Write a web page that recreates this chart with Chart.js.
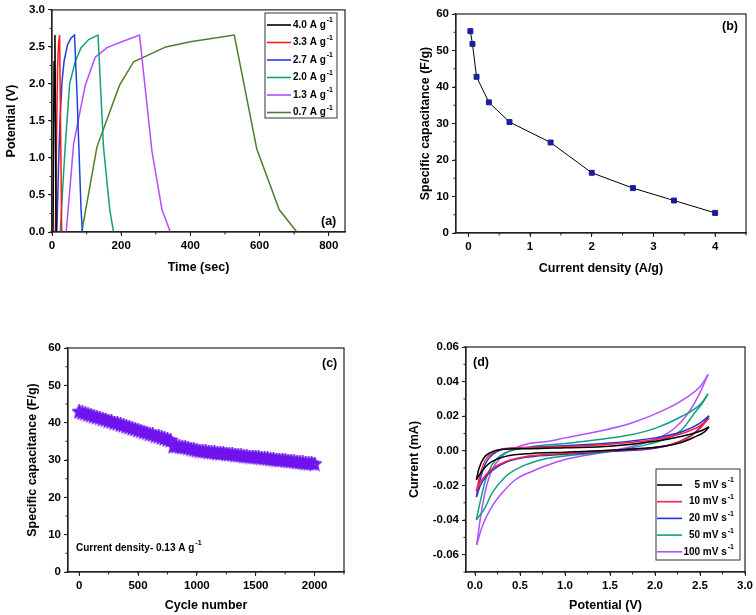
<!DOCTYPE html>
<html>
<head>
<meta charset="utf-8">
<script src="https://cdn.jsdelivr.net/npm/chart.js@4.4.1/dist/chart.umd.min.js"></script>
<style>
  body { margin: 0; background: #fff; }
  #wrap { position: relative; width: 756px; height: 615px; }
  canvas { position: absolute; }
</style>
</head>
<body>
<div id="wrap">
  <canvas id="chartA" width="378" height="300" style="left:0;top:0"></canvas>
  <canvas id="chartB" width="378" height="300" style="left:378px;top:0"></canvas>
  <canvas id="chartC" width="378" height="315" style="left:0;top:300px"></canvas>
  <canvas id="chartD" width="378" height="315" style="left:378px;top:300px"></canvas>
</div>
<script>
// ---- (a) galvanostatic charge/discharge ----
const gcdLabels = ["4.0 A g", "3.3 A g", "2.7 A g", "2.0 A g", "1.3 A g", "0.7 A g"];
const gcdColors = ["#000000", "#ff1a1a", "#2040e0", "#14a07a", "#b44cff", "#4f7d28"];
const gcd40X = [3, 6, 8.5, 12];
const gcd40Y = [0, 2.3, 2.66, 0];
const gcd33X = [10, 13, 16, 19, 22, 28];
const gcd33Y = [0, 1.2, 2.2, 2.55, 2.66, 0];
const gcd27X = [14, 19, 23, 29, 35, 45, 55, 65, 72, 78, 84, 88];
const gcd27Y = [0, 0.9, 1.5, 2.03, 2.31, 2.53, 2.62, 2.66, 1.9, 1.1, 0.3, 0];
const gcd20X = [24, 31, 38, 51, 67, 84, 106, 133, 149, 167, 178];
const gcd20Y = [0, 0.6, 1.14, 2.0, 2.3, 2.49, 2.6, 2.66, 1.14, 0.3, 0];
const gcd13X = [41, 52, 62.5, 96, 125, 159, 202, 253, 289, 318, 342];
const gcd13Y = [0, 0.6, 1.19, 1.98, 2.36, 2.49, 2.57, 2.66, 1.09, 0.3, 0];
const gcd07X = [86, 130, 195, 236, 329, 400, 527, 592, 657, 708];
const gcd07Y = [0, 1.15, 1.98, 2.3, 2.5, 2.57, 2.66, 1.12, 0.3, 0];
const timeTicks = [0, 200, 400, 600, 800];
const potTicks = [0, 0.5, 1.0, 1.5, 2.0, 2.5, 3.0];

// ---- (b) rate capability ----
const rateDensity = [0.033, 0.067, 0.133, 0.333, 0.667, 1.333, 2.0, 2.667, 3.333, 4.0];
const rateCap = [55.3, 51.8, 42.8, 35.8, 30.4, 24.8, 16.5, 12.3, 8.9, 5.5];
const densityTicks = [0, 1, 2, 3, 4];
const capTicks = [0, 10, 20, 30, 40, 50, 60];

// ---- (c) cycling ----
const cycleNo = [0, 25, 50, 75, 100, 125, 150, 175, 200, 225, 250, 275, 300, 325, 350, 375,
  400, 425, 450, 475, 500, 525, 550, 575, 600, 625, 650, 675, 700, 725, 750, 775,
  800, 825, 850, 875, 900, 925, 950, 975, 1000, 1025, 1050, 1075, 1100, 1125, 1150, 1175,
  1200, 1225, 1250, 1275, 1300, 1325, 1350, 1375, 1400, 1425, 1450, 1475, 1500, 1525, 1550, 1575,
  1600, 1625, 1650, 1675, 1700, 1725, 1750, 1775, 1800, 1825, 1850, 1875, 1900, 1925, 1950, 1975, 2000];
const cycleCap = [42.9, 42.6, 42.4, 42.1, 41.9, 41.6, 41.4, 41.2, 40.9, 40.7, 40.4, 40.2, 39.9, 39.7, 39.4, 39.2,
  38.9, 38.7, 38.4, 38.2, 37.9, 37.7, 37.4, 37.2, 36.9, 36.7, 36.4, 36.2, 35.9, 35.7, 35.4, 35.2,
  33.6, 33.6, 33.5, 33.4, 33.3, 33.1, 32.9, 32.7, 32.5, 32.4, 32.3, 32.2, 32.1, 32.0, 31.9, 31.8,
  31.7, 31.7, 31.6, 31.5, 31.4, 31.3, 31.2, 31.1, 31.0, 30.9, 30.8, 30.8, 30.7, 30.6, 30.5, 30.4,
  30.3, 30.2, 30.1, 30.0, 29.9, 29.9, 29.8, 29.7, 29.6, 29.5, 29.4, 29.3, 29.2, 29.1, 29.0, 29.0, 28.9];
const cycleTicks = [0, 500, 1000, 1500, 2000];

// ---- (d) cyclic voltammetry (upper / lower branch of each loop) ----
const cvLabels = ["5 mV s", "10 mV s", "20 mV s", "50 mV s", "100 mV s"];
const cvColors = ["#000000", "#ff2040", "#2030e0", "#10a080", "#b050ff"];
const cv5UpX = [0.015, 0.045, 0.1, 0.17, 0.27, 0.6, 1.0, 1.5, 2.0, 2.3, 2.5, 2.6];
const cv5UpY = [-0.0167, -0.010, -0.004, -0.001, 0.0007, 0.0012, 0.0018, 0.0026, 0.0055, 0.0084, 0.0113, 0.0138];
const cv5LoX = [0.015, 0.063, 0.12, 0.19, 0.34, 0.63, 1.0, 1.75, 2.1, 2.3, 2.44, 2.55, 2.6];
const cv5LoY = [-0.0167, -0.0128, -0.009, -0.0061, -0.0032, -0.0015, -0.0008, 0.0011, 0.0026, 0.005, 0.008, 0.011, 0.0138];
const cv10UpX = [0.015, 0.06, 0.12, 0.2, 0.3, 0.6, 1.0, 1.5, 2.0, 2.3, 2.5, 2.6];
const cv10UpY = [-0.0234, -0.013, -0.005, -0.001, 0.001, 0.0018, 0.0025, 0.0038, 0.0065, 0.010, 0.0145, 0.019];
const cv10LoX = [0.015, 0.06, 0.12, 0.2, 0.35, 0.6, 1.0, 1.5, 2.0, 2.2, 2.4, 2.5, 2.6];
const cv10LoY = [-0.0234, -0.018, -0.014, -0.010, -0.006, -0.003, -0.0015, 0.0, 0.002, 0.004, 0.0085, 0.013, 0.019];
const cv20UpX = [0.015, 0.06, 0.12, 0.2, 0.3, 0.6, 1.0, 1.5, 2.0, 2.3, 2.5, 2.6];
const cv20UpY = [-0.0267, -0.016, -0.007, -0.002, 0.0008, 0.002, 0.003, 0.0045, 0.0075, 0.011, 0.016, 0.0203];
const cv20LoX = [0.015, 0.06, 0.12, 0.2, 0.35, 0.6, 1.0, 1.5, 2.0, 2.2, 2.4, 2.5, 2.6];
const cv20LoY = [-0.0267, -0.020, -0.015, -0.011, -0.0065, -0.0035, -0.002, -0.0003, 0.0015, 0.004, 0.009, 0.0135, 0.0203];
const cv50UpX = [0.015, 0.063, 0.118, 0.19, 0.3, 0.45, 0.7, 1.0, 1.375, 1.7, 2.0, 2.3, 2.5, 2.59];
const cv50UpY = [-0.0398, -0.0282, -0.0167, -0.008, -0.0022, 0.0007, 0.003, 0.0042, 0.0065, 0.009, 0.013, 0.020, 0.0267, 0.0329];
const cv50LoX = [0.015, 0.1, 0.19, 0.34, 0.52, 0.74, 1.0, 1.5, 1.75, 2.1, 2.3, 2.44, 2.52, 2.59];
const cv50LoY = [-0.0398, -0.034, -0.0244, -0.0148, -0.009, -0.0051, -0.003, -0.0005, 0.0018, 0.0065, 0.0123, 0.0219, 0.027, 0.0329];
const cv100UpX = [0.019, 0.063, 0.118, 0.19, 0.3, 0.45, 0.6, 0.82, 1.0, 1.375, 1.74, 2.11, 2.37, 2.5, 2.59];
const cv100UpY = [-0.0543, -0.038, -0.0225, -0.0109, -0.0032, 0.0017, 0.0042, 0.0055, 0.0075, 0.0113, 0.0161, 0.0238, 0.0315, 0.037, 0.0441];
const cv100LoX = [0.019, 0.08, 0.19, 0.3, 0.45, 0.63, 0.82, 1.0, 1.375, 1.74, 2.04, 2.22, 2.37, 2.48, 2.59];
const cv100LoY = [-0.0543, -0.0437, -0.0321, -0.0244, -0.0167, -0.0119, -0.008, -0.005, -0.0012, 0.0025, 0.0075, 0.0132, 0.0219, 0.0315, 0.0441];
const cvPotTicks = [0, 0.5, 1.0, 1.5, 2.0, 2.5, 3.0];
const cvCurTicks = [-0.06, -0.04, -0.02, 0, 0.02, 0.04, 0.06];

const FAMILY = '"Liberation Sans", Arial, sans-serif';
Chart.defaults.font.family = FAMILY;
Chart.defaults.font.weight = "bold";
Chart.defaults.color = "#000";

function pts(xs, ys) {
  return xs.map((x, i) => ({ x: x, y: ys[i] }));
}

// text with a small raised "-1"
function supText(ctx, text, sup, x, y, size, align) {
  ctx.font = "bold " + size + "px " + FAMILY;
  const w1 = ctx.measureText(text).width;
  const small = "bold " + Math.round(size * 0.65) + "px " + FAMILY;
  ctx.font = small;
  const w2 = sup ? ctx.measureText(sup).width : 0;
  const x0 = align === "right" ? x - w1 - w2 - 1 : x;
  ctx.textAlign = "left";
  ctx.textBaseline = "middle";
  ctx.fillStyle = "#000";
  ctx.font = "bold " + size + "px " + FAMILY;
  ctx.fillText(text, x0, y);
  if (sup) {
    ctx.font = small;
    ctx.fillText(sup, x0 + w1 + 1, y - size * 0.45);
  }
}

// frame, minor ticks, notes and in-plot legend
const decor = {
  id: "decor",
  afterDraw(chart, args, opts) {
    const ctx = chart.ctx;
    const a = chart.chartArea;
    ctx.save();
    ctx.strokeStyle = "#222";
    ctx.lineWidth = 1.2;
    ctx.strokeRect(a.left, a.top, a.right - a.left, a.bottom - a.top);

    ctx.lineWidth = 1;
    ["x", "y"].forEach(function (id) {
      const sc = chart.scales[id];
      const step = opts.minor[id];
      for (let v = Math.ceil(sc.min / step) * step; v <= sc.max + step * 1e-6; v += step) {
        const p = sc.getPixelForValue(v);
        ctx.beginPath();
        if (id === "x") { ctx.moveTo(p, a.bottom); ctx.lineTo(p, a.bottom + 2.5); }
        else { ctx.moveTo(a.left, p); ctx.lineTo(a.left - 2.5, p); }
        ctx.stroke();
      }
    });

    (opts.notes || []).forEach(function (n) {
      supText(ctx, n.text, n.sup, n.x, n.y, n.size, "left");
    });

    const lg = opts.legend;
    if (lg) {
      ctx.strokeStyle = "#333";
      ctx.lineWidth = 1;
      ctx.strokeRect(lg.box[0], lg.box[1], lg.box[2], lg.box[3]);
      lg.labels.forEach(function (lab, i) {
        const y = lg.top + i * lg.gap;
        ctx.strokeStyle = lg.colors[i];
        ctx.lineWidth = 1.6;
        ctx.beginPath();
        ctx.moveTo(lg.line[0], y);
        ctx.lineTo(lg.line[1], y);
        ctx.stroke();
        supText(ctx, lab, "-1", lg.textX, y, lg.size, lg.align);
      });
    }
    ctx.restore();
  }
};

function axis(opts) {
  return {
    type: "linear",
    min: opts.min,
    max: opts.max,
    afterFit: function (scale) {
      if (opts.width) scale.width = opts.width;
      if (opts.height) scale.height = opts.height;
    },
    afterBuildTicks: function (scale) {
      scale.ticks = opts.ticks.map(v => ({ value: v }));
    },
    grid: { drawOnChartArea: false, tickLength: 4, tickColor: "#222", tickWidth: 1 },
    border: { display: true, color: "#222", width: 1.2 },
    title: { display: true, text: opts.title, font: { size: 12.5, weight: "bold" }, padding: { top: 4, bottom: 2 }, color: "#000" },
    ticks: {
      padding: 3,
      font: { size: 11.5, weight: "bold" },
      color: "#000",
      callback: opts.fmt
    }
  };
}

function lineSet(xs, ys, color, width) {
  return {
    data: pts(xs, ys),
    showLine: true,
    borderColor: color,
    borderWidth: width,
    pointRadius: 0,
    tension: 0
  };
}

// (a)
new Chart(document.getElementById("chartA"), {
  type: "scatter",
  data: {
    datasets: [
      lineSet(gcd40X, gcd40Y, gcdColors[0], 1.5),
      lineSet(gcd33X, gcd33Y, gcdColors[1], 1.5),
      lineSet(gcd27X, gcd27Y, gcdColors[2], 1.5),
      lineSet(gcd20X, gcd20Y, gcdColors[3], 1.5),
      lineSet(gcd13X, gcd13Y, gcdColors[4], 1.5),
      lineSet(gcd07X, gcd07Y, gcdColors[5], 1.5)
    ]
  },
  options: {
    responsive: false,
    animation: false,
    layout: { padding: { left: 0, top: 7, right: 33, bottom: 23 } },
    scales: {
      x: axis({ min: 0, max: 847, ticks: timeTicks, title: "Time (sec)", height: 45, fmt: v => v }),
      y: axis({ min: 0, max: 3, ticks: potTicks, title: "Potential (V)", width: 52, fmt: v => v.toFixed(1) })
    },
    plugins: {
      legend: { display: false },
      tooltip: { enabled: false },
      decor: {
        minor: { x: 100, y: 0.25 },
        notes: [{ text: "(a)", x: 321, y: 222, size: 12.5 }],
        legend: { box: [265, 13, 72, 105], labels: gcdLabels, colors: gcdColors,
          top: 25, gap: 17.5, line: [267, 291], textX: 293, size: 10, align: "left" }
      }
    }
  },
  plugins: [decor]
});

// (b)
new Chart(document.getElementById("chartB"), {
  type: "scatter",
  data: {
    datasets: [{
      data: pts(rateDensity, rateCap),
      showLine: true,
      borderColor: "#000",
      borderWidth: 1,
      pointStyle: "rect",
      pointRadius: 3.5,
      pointBackgroundColor: "#1c1ca0",
      pointBorderColor: "#1c1ca0",
      tension: 0
    }]
  },
  options: {
    responsive: false,
    animation: false,
    layout: { padding: { left: 36, top: 14, right: 10, bottom: 22 } },
    scales: {
      x: axis({ min: -0.2, max: 4.5, ticks: densityTicks, title: "Current density (A/g)", height: 45, fmt: v => v }),
      y: axis({ min: 0, max: 60, ticks: capTicks, title: "Specific capacitance (F/g)", width: 42, fmt: v => v })
    },
    plugins: {
      legend: { display: false },
      tooltip: { enabled: false },
      decor: {
        minor: { x: 0.5, y: 5 },
        notes: [{ text: "(b)", x: 344, y: 27, size: 12.5 }]
      }
    }
  },
  plugins: [decor]
});

// (c)
function starImage(r, color) {
  const c = document.createElement("canvas");
  c.width = c.height = Math.ceil(r * 2 + 4);
  const g = c.getContext("2d");
  const cx = c.width / 2, cy = c.height / 2;
  g.beginPath();
  for (let i = 0; i < 10; i++) {
    const rr = i % 2 ? r * 0.45 : r;
    const ang = -Math.PI / 2 + i * Math.PI / 5;
    g.lineTo(cx + rr * Math.cos(ang), cy + rr * Math.sin(ang));
  }
  g.closePath();
  g.strokeStyle = color;
  g.lineWidth = 2.6;
  g.stroke();
  return c;
}

new Chart(document.getElementById("chartC"), {
  type: "scatter",
  data: {
    datasets: [{
      data: pts(cycleNo, cycleCap),
      pointStyle: starImage(5.5, "#6f14ee"),
      pointRadius: 6
    }]
  },
  options: {
    responsive: false,
    animation: false,
    layout: { padding: { left: 21, top: 48, right: 34, bottom: 0 } },
    scales: {
      x: axis({ min: -95, max: 2250, ticks: cycleTicks, title: "Cycle number", height: 43, fmt: v => v }),
      y: axis({ min: 0, max: 60, ticks: capTicks, title: "Specific capacitance (F/g)", width: 47, fmt: v => v })
    },
    plugins: {
      legend: { display: false },
      tooltip: { enabled: false },
      decor: {
        minor: { x: 250, y: 5 },
        notes: [
          { text: "(c)", x: 322, y: 64, size: 12.5 },
          { text: "Current density- 0.13 A g", sup: "-1", x: 76, y: 248, size: 10 }
        ]
      }
    }
  },
  plugins: [decor]
});

// (d)
function cvSet(xs, ys, color) {
  return {
    data: pts(xs, ys),
    showLine: true,
    borderColor: color,
    borderWidth: 1.5,
    pointRadius: 0,
    cubicInterpolationMode: "monotone"
  };
}

new Chart(document.getElementById("chartD"), {
  type: "scatter",
  data: {
    datasets: [
      cvSet(cv5UpX, cv5UpY, cvColors[0]), cvSet(cv5LoX, cv5LoY, cvColors[0]),
      cvSet(cv10UpX, cv10UpY, cvColors[1]), cvSet(cv10LoX, cv10LoY, cvColors[1]),
      cvSet(cv20UpX, cv20UpY, cvColors[2]), cvSet(cv20LoX, cv20LoY, cvColors[2]),
      cvSet(cv50UpX, cv50UpY, cvColors[3]), cvSet(cv50LoX, cv50LoY, cvColors[3]),
      cvSet(cv100UpX, cv100UpY, cvColors[4]), cvSet(cv100LoX, cv100LoY, cvColors[4])
    ]
  },
  options: {
    responsive: false,
    animation: false,
    layout: { padding: { left: 25, top: 47, right: 10, bottom: 0 } },
    scales: {
      x: axis({ min: -0.1, max: 3.0, ticks: cvPotTicks, title: "Potential (V)", height: 43, fmt: v => v.toFixed(1) }),
      y: axis({ min: -0.07, max: 0.06, ticks: cvCurTicks, title: "Current (mA)", width: 63, fmt: v => v.toFixed(2) })
    },
    plugins: {
      legend: { display: false },
      tooltip: { enabled: false },
      decor: {
        minor: { x: 0.25, y: 0.01 },
        notes: [{ text: "(d)", x: 95, y: 63, size: 12.5 }],
        legend: { box: [278, 169, 84, 91], labels: cvLabels, colors: cvColors,
          top: 185, gap: 16.7, line: [279, 304], textX: 356, size: 10, align: "right" }
      }
    }
  },
  plugins: [decor]
});
</script>
</body>
</html>
